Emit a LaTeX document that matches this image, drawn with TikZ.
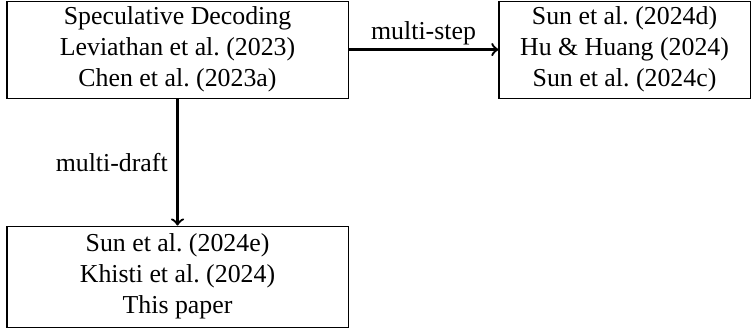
\documentclass[tikz,border=0pt]{standalone}
\usepackage{fontspec}
\setmainfont{Liberation Serif}

\begin{document}
\begin{tikzpicture}[
    workbox/.style={draw, align=center, inner sep=0pt},
    flow/.style={->, line width=0.9pt}
  ]
  \useasboundingbox (0,0) rectangle (10.24,4.53);
  \coordinate (spec) at (2.414, 3.856);
  \coordinate (step) at (8.493, 3.856);
  \coordinate (draft) at (2.414, 0.768);

  \node[workbox, minimum width=4.638cm, minimum height=1.319cm] (specbox) at (spec)
    {Speculative Decoding\\ Leviathan et al.\ (2023)\\ Chen et al.\ (2023a)};
  \node[workbox, minimum width=3.414cm, minimum height=1.319cm] (stepbox) at (step)
    {Sun et al.\ (2024d)\\ Hu \& Huang (2024)\\ Sun et al.\ (2024c)};
  \node[workbox, minimum width=4.638cm, minimum height=1.374cm] (draftbox) at (draft)
    {Sun et al.\ (2024e)\\ Khisti et al.\ (2024)\\ This paper};

  \draw[flow] (specbox) -- node[above, inner sep=1.5pt] {multi-step} (stepbox);
  \draw[flow] (specbox) -- node[left] {multi-draft} (draftbox);
\end{tikzpicture}
\end{document}
